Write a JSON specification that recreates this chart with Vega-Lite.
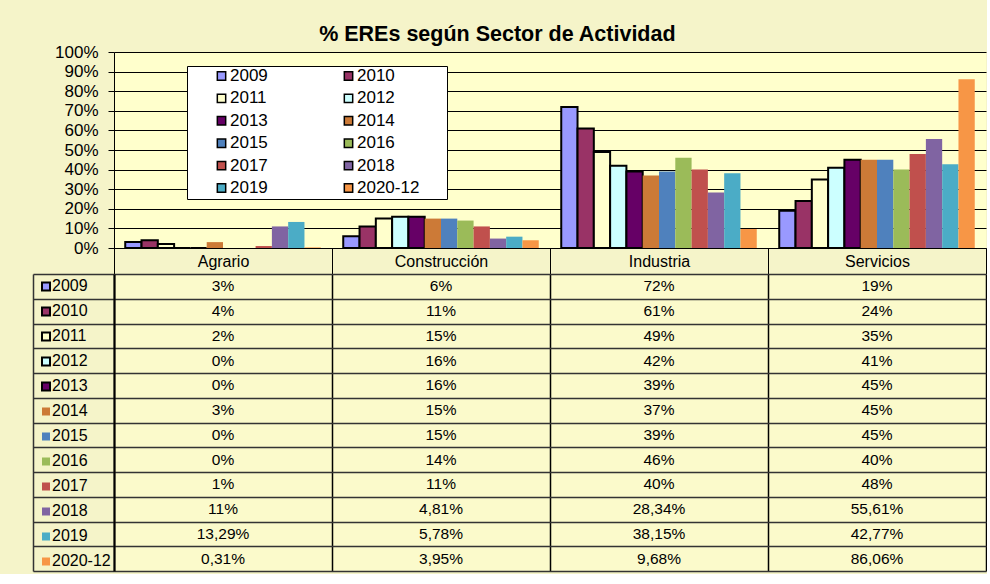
{
  "$schema": "https://vega.github.io/schema/vega-lite/v6.json",
  "background": "#F5F4C9",
  "padding": {"left": 32, "top": 23, "right": 0, "bottom": 0},
  "title": {"text": "%  EREs según Sector de Actividad", "fontSize": 21.5, "fontWeight": "bold", "color": "black", "anchor": "middle", "offset": -2, "dx": -12},
  "datasets": {
    "ere": [
      {"sector": "Agrario", "year": "2009", "value": 3, "label": "3%"},
      {"sector": "Agrario", "year": "2010", "value": 4, "label": "4%"},
      {"sector": "Agrario", "year": "2011", "value": 2, "label": "2%"},
      {"sector": "Agrario", "year": "2012", "value": 0, "label": "0%"},
      {"sector": "Agrario", "year": "2013", "value": 0, "label": "0%"},
      {"sector": "Agrario", "year": "2014", "value": 3, "label": "3%"},
      {"sector": "Agrario", "year": "2015", "value": 0, "label": "0%"},
      {"sector": "Agrario", "year": "2016", "value": 0, "label": "0%"},
      {"sector": "Agrario", "year": "2017", "value": 1, "label": "1%"},
      {"sector": "Agrario", "year": "2018", "value": 11, "label": "11%"},
      {"sector": "Agrario", "year": "2019", "value": 13.29, "label": "13,29%"},
      {"sector": "Agrario", "year": "2020-12", "value": 0.31, "label": "0,31%"},
      {"sector": "Construcción", "year": "2009", "value": 6, "label": "6%"},
      {"sector": "Construcción", "year": "2010", "value": 11, "label": "11%"},
      {"sector": "Construcción", "year": "2011", "value": 15, "label": "15%"},
      {"sector": "Construcción", "year": "2012", "value": 16, "label": "16%"},
      {"sector": "Construcción", "year": "2013", "value": 16, "label": "16%"},
      {"sector": "Construcción", "year": "2014", "value": 15, "label": "15%"},
      {"sector": "Construcción", "year": "2015", "value": 15, "label": "15%"},
      {"sector": "Construcción", "year": "2016", "value": 14, "label": "14%"},
      {"sector": "Construcción", "year": "2017", "value": 11, "label": "11%"},
      {"sector": "Construcción", "year": "2018", "value": 4.81, "label": "4,81%"},
      {"sector": "Construcción", "year": "2019", "value": 5.78, "label": "5,78%"},
      {"sector": "Construcción", "year": "2020-12", "value": 3.95, "label": "3,95%"},
      {"sector": "Industria", "year": "2009", "value": 72, "label": "72%"},
      {"sector": "Industria", "year": "2010", "value": 61, "label": "61%"},
      {"sector": "Industria", "year": "2011", "value": 49, "label": "49%"},
      {"sector": "Industria", "year": "2012", "value": 42, "label": "42%"},
      {"sector": "Industria", "year": "2013", "value": 39, "label": "39%"},
      {"sector": "Industria", "year": "2014", "value": 37, "label": "37%"},
      {"sector": "Industria", "year": "2015", "value": 39, "label": "39%"},
      {"sector": "Industria", "year": "2016", "value": 46, "label": "46%"},
      {"sector": "Industria", "year": "2017", "value": 40, "label": "40%"},
      {"sector": "Industria", "year": "2018", "value": 28.34, "label": "28,34%"},
      {"sector": "Industria", "year": "2019", "value": 38.15, "label": "38,15%"},
      {"sector": "Industria", "year": "2020-12", "value": 9.68, "label": "9,68%"},
      {"sector": "Servicios", "year": "2009", "value": 19, "label": "19%"},
      {"sector": "Servicios", "year": "2010", "value": 24, "label": "24%"},
      {"sector": "Servicios", "year": "2011", "value": 35, "label": "35%"},
      {"sector": "Servicios", "year": "2012", "value": 41, "label": "41%"},
      {"sector": "Servicios", "year": "2013", "value": 45, "label": "45%"},
      {"sector": "Servicios", "year": "2014", "value": 45, "label": "45%"},
      {"sector": "Servicios", "year": "2015", "value": 45, "label": "45%"},
      {"sector": "Servicios", "year": "2016", "value": 40, "label": "40%"},
      {"sector": "Servicios", "year": "2017", "value": 48, "label": "48%"},
      {"sector": "Servicios", "year": "2018", "value": 55.61, "label": "55,61%"},
      {"sector": "Servicios", "year": "2019", "value": 42.77, "label": "42,77%"},
      {"sector": "Servicios", "year": "2020-12", "value": 86.06, "label": "86,06%"}
    ]
  },
  "spacing": 26,
  "bounds": "flush",
  "resolve": {"legend": {"color": "independent"}},
  "vconcat": [
    {
      "width": 872,
      "height": 196,
      "view": {"fill": "#FFFFCC", "stroke": null},
      "data": {"name": "ere"},
      "mark": {"type": "bar", "stroke": "black"},
      "encoding": {
        "x": {
          "field": "sector", "type": "nominal",
          "sort": ["Agrario", "Construcción", "Industria", "Servicios"],
          "scale": {"paddingInner": 0, "paddingOuter": 0},
          "axis": {"title": null, "labelAngle": 0, "tickBand": "extent", "tickSize": 26, "tickColor": "black", "domainColor": "black", "labelPadding": -13, "labelBaseline": "middle", "minExtent": 26, "maxExtent": 26, "labelFontSize": 16, "labelColor": "black", "grid": false}
        },
        "xOffset": {
          "field": "year", "type": "nominal",
          "sort": ["2009", "2010", "2011", "2012", "2013", "2014", "2015", "2016", "2017", "2018", "2019", "2020-12"],
          "scale": {"paddingInner": 0, "paddingOuter": 0.69}
        },
        "y": {
          "field": "value", "type": "quantitative",
          "scale": {"domain": [0, 100], "nice": false},
          "axis": {"title": null, "values": [0, 10, 20, 30, 40, 50, 60, 70, 80, 90, 100], "labelExpr": "datum.value + '%'", "grid": true, "gridColor": "black", "gridOpacity": 1, "tickSize": 6, "tickColor": "black", "domainColor": "black", "labelPadding": 10, "labelFontSize": 17, "labelColor": "black"}
        },
        "color": {
          "field": "year", "type": "nominal",
          "scale": {
            "domain": ["2009", "2010", "2011", "2012", "2013", "2014", "2015", "2016", "2017", "2018", "2019", "2020-12"],
            "range": ["#9999FF", "#993366", "#FFFFCC", "#CCFFFF", "#660066", "#CC7A37", "#4F81BD", "#9BBB59", "#C0504D", "#8064A2", "#4BACC6", "#F79646"]
          },
          "legend": {
            "orient": "none", "legendX": 73, "legendY": 14, "columns": 2, "direction": "horizontal", "title": null,
            "fillColor": "white", "strokeColor": "black", "padding": 3,
            "clipHeight": 14, "rowPadding": 5.4, "columnPadding": -6.3, "gridAlign": "all",
            "symbolType": "square", "symbolSize": 70, "symbolOffset": 23,
            "labelFontSize": 17, "labelColor": "black", "labelOffset": 0, "labelLimit": 300,
            "labelExpr": "datum.label + '\u00a0\u00a0\u00a0\u00a0\u00a0\u200b'",
            "encode": {"symbols": {"update": {"stroke": {"value": "black"}, "strokeWidth": {"signal": "indexof(['2009','2010','2011','2012','2013'], datum.value) >= 0 ? 2 : 0"}, "opacity": {"value": 1}}}}
          }
        },
        "strokeWidth": {"condition": {"test": "indexof(['2009','2010','2011','2012','2013'], datum.year) >= 0", "value": 2}, "value": 0}
      }
    },
    {
      "width": 872,
      "height": 297,
      "view": {"fill": "#FBFACB", "stroke": null},
      "data": {"name": "ere"},
      "resolve": {"axis": {"y": "independent"}},
      "layer": [
        {
          "mark": {"type": "text", "fontSize": 15.5, "color": "black"},
          "encoding": {
            "x": {
              "field": "sector", "type": "nominal",
              "sort": ["Agrario", "Construcción", "Industria", "Servicios"],
              "scale": {"paddingInner": 0, "paddingOuter": 0},
              "axis": {"title": null, "labels": false, "ticks": false, "domain": false, "grid": true, "tickBand": "extent", "gridColor": "black", "gridOpacity": 1, "gridWidth": 1.5}
            },
            "y": {
              "field": "year", "type": "nominal",
              "sort": ["2009", "2010", "2011", "2012", "2013", "2014", "2015", "2016", "2017", "2018", "2019", "2020-12"],
              "scale": {"paddingInner": 0, "paddingOuter": 0},
              "axis": {"title": null, "orient": "left", "labels": false, "grid": true, "gridColor": "#333333", "gridOpacity": 1, "gridWidth": 1.5, "tickBand": "extent", "tickSize": 81, "tickColor": "#333333", "tickWidth": 1.5, "domainColor": "black", "domainWidth": 2, "minExtent": 81, "maxExtent": 81}
            },
            "text": {"field": "label"}
          }
        },
        {
          "mark": {"type": "square", "opacity": 0},
          "encoding": {
            "y": {
              "field": "year", "type": "nominal",
              "sort": ["2009", "2010", "2011", "2012", "2013", "2014", "2015", "2016", "2017", "2018", "2019", "2020-12"],
              "axis": {"title": null, "orient": "left", "offset": 81, "labels": false, "ticks": false, "grid": false, "domain": true, "domainColor": "#333333", "domainWidth": 1.5, "minExtent": 0, "maxExtent": 0}
            },
            "color": {
              "field": "year", "type": "nominal",
              "legend": {
                "orient": "none", "legendX": -76, "legendY": 0, "title": null, "padding": 0,
                "clipHeight": 24.75, "rowPadding": 0, "symbolType": "square", "symbolSize": 64,
                "labelFontSize": 16, "labelColor": "black", "labelOffset": -2,
                "encode": {"symbols": {"update": {"opacity": {"value": 1}, "stroke": {"value": "black"}, "strokeWidth": {"signal": "indexof(['2009','2010','2011','2012','2013'], datum.value) >= 0 ? 2 : 0"}}}}
              }
            }
          }
        }
      ]
    }
  ],
  "config": {
    "font": "Liberation Sans",
    "axis": {"labelFont": "Liberation Sans"},
    "legend": {"labelFont": "Liberation Sans"}
  }
}
